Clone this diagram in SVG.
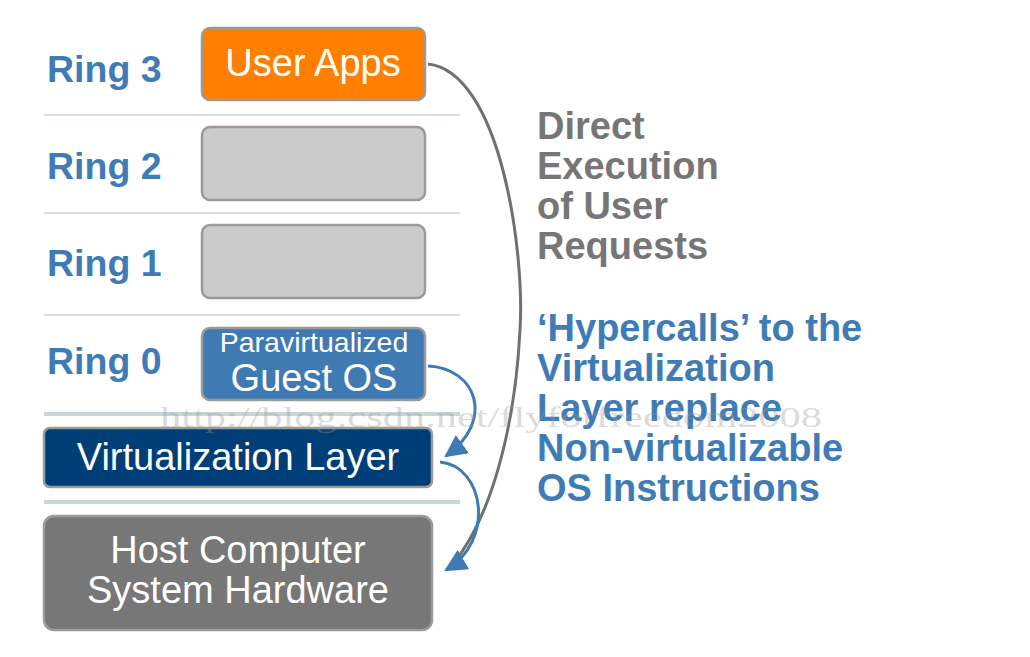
<svg xmlns="http://www.w3.org/2000/svg" width="1030" height="657" viewBox="0 0 1030 657">
<defs>
<style>
.ring{font-family:"Liberation Sans",Arial,sans-serif;font-weight:bold;font-size:37.5px;fill:#3f7cb6}
.box{stroke:#9a9a9a;stroke-width:2.5}
.lbl{font-family:"Liberation Sans",Arial,sans-serif;font-size:38px;fill:#fff;text-anchor:middle}
.sep{stroke:#d4dfe0;stroke-width:2}
.sepb{stroke:#c8d6d7;stroke-width:4}
.rt{font-family:"Liberation Sans",Arial,sans-serif;font-weight:bold;font-size:38px}
</style>
<marker id="ab" viewBox="0 0 10 10" refX="9" refY="5" markerWidth="7.5" markerHeight="7.5" orient="auto" markerUnits="strokeWidth">
<path d="M0,0 L10,5 L0,10 Z" fill="#3e7bb4"/>
</marker>
</defs>
<rect width="1030" height="657" fill="#fff"/>
<g id="separators">
<line class="sep" x1="44" y1="115" x2="460" y2="115"/>
<line class="sep" x1="44" y1="213" x2="460" y2="213"/>
<line class="sep" x1="44" y1="315" x2="460" y2="315"/>
<line class="sepb" x1="44" y1="414" x2="460" y2="414"/>
<line class="sepb" x1="44" y1="502" x2="460" y2="502"/>
</g>
<g id="ring-labels">
<text class="ring" x="47" y="82">Ring 3</text>
<text class="ring" x="47" y="179">Ring 2</text>
<text class="ring" x="47" y="276">Ring 1</text>
<text class="ring" x="47" y="374">Ring 0</text>
</g>
<g id="user-apps">
<rect class="box" x="202" y="28" width="223" height="72" rx="8" fill="#ff7f00"/>
<text class="lbl" x="313" y="76">User Apps</text>
</g>
<g id="ring2-box">
<rect class="box" x="202" y="127" width="223" height="73" rx="8" fill="#cbcbcb"/>
</g>
<g id="ring1-box">
<rect class="box" x="202" y="225" width="223" height="73" rx="8" fill="#cbcbcb"/>
</g>
<g id="guest-os">
<rect class="box" x="202" y="328" width="223" height="72" rx="8" fill="#3f7ab3"/>
<text class="lbl" x="314" y="352" style="font-size:28.5px">Paravirtualized</text>
<text class="lbl" x="314" y="391">Guest OS</text>
</g>
<g id="virtualization-layer">
<rect class="box" x="44" y="428" width="388" height="59" rx="6" fill="#003e78"/>
<text class="lbl" x="238" y="470">Virtualization Layer</text>
</g>
<g id="host-hardware">
<rect class="box" x="44" y="516" width="388" height="114" rx="10" fill="#777777"/>
<text class="lbl" x="238" y="563">Host Computer</text>
<text class="lbl" x="238" y="603">System Hardware</text>
</g>
<g id="connectors" fill="none">
<path d="M428,64 C500,72 525,250 520,330 C515,430 490,520 452,565" stroke="#707070" stroke-width="3"/>
<path d="M428,366 C476,368 496,420 446,456" stroke="#3e7bb4" stroke-width="3" marker-end="url(#ab)"/>
<path d="M440,462 C484,466 496,540 446,570" stroke="#3e7bb4" stroke-width="3" marker-end="url(#ab)"/>
</g>
<g id="descriptions">
<text class="rt" fill="#767676"><tspan x="537" y="139">Direct</tspan><tspan x="537" y="179">Execution</tspan><tspan x="537" y="219">of User</tspan><tspan x="537" y="259">Requests</tspan></text>
<text class="rt" fill="#3f7cb6"><tspan x="537" y="341">‘Hypercalls’ to the</tspan><tspan x="537" y="381">Virtualization</tspan><tspan x="537" y="421">Layer replace</tspan><tspan x="537" y="461">Non-virtualizable</tspan><tspan x="537" y="501">OS Instructions</tspan></text>
</g>
<text x="160" y="427" font-family="Liberation Serif,serif" font-size="30" fill="#999" fill-opacity="0.35" textLength="662" lengthAdjust="spacingAndGlyphs">http://blog.csdn.net/flyforfreedom2008</text>
</svg>
